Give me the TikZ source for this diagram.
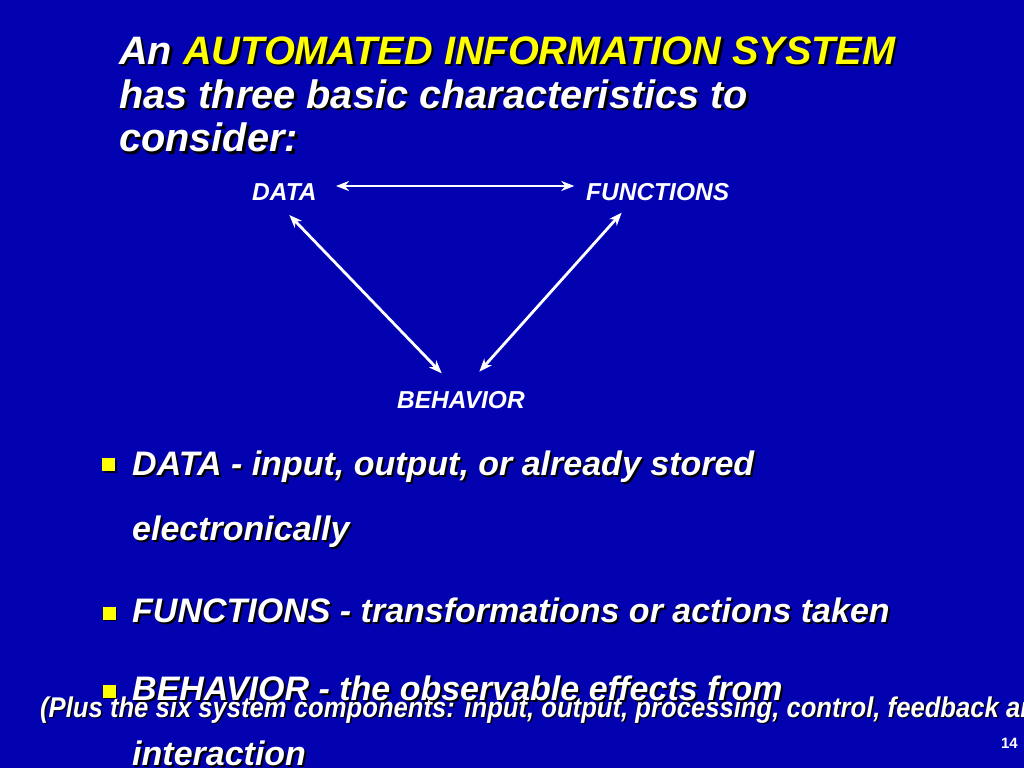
\documentclass[tikz,border=0pt]{standalone}
\usepackage{fontspec}
\setmainfont{Liberation Sans}
\newfontfamily\narrowfont[FakeStretch=0.9]{Liberation Sans}
\usetikzlibrary{arrows.meta,shadows}
\definecolor{bg}{RGB}{2,2,176}
\definecolor{ylw}{RGB}{255,255,0}
\newcommand\yel[1]{{\color{ylw}#1}}
\newcommand\shd[2]{\makebox[0pt][l]{\hspace*{#1}\raisebox{-#1}{\color{black}\let\yel\relax #2}}#2}
\tikzset{
  ttl/.style={anchor=base west, inner sep=0pt, text=white, font=\fontsize{39.7}{44}\selectfont\bfseries\itshape},
  lbl/.style={anchor=base west, inner sep=0pt, text=white, font=\fontsize{24.5}{28}\selectfont\bfseries\itshape},
  btxt/.style={anchor=base west, inner sep=0pt, text=white, font=\fontsize{34}{40}\selectfont\bfseries\itshape},
  note/.style={anchor=base west, inner sep=0pt, text=white, font=\narrowfont\fontsize{28.5}{33}\selectfont\bfseries\itshape},
  pgnum/.style={anchor=base east, inner sep=0pt, text=white, font=\fontsize{15}{18}\selectfont\bfseries},
  bsq/.style={fill=ylw, minimum size=13pt, inner sep=0pt, drop shadow={shadow xshift=1.5pt, shadow yshift=-1.5pt, fill=black, opacity=0.8}},
  arr/.style={draw=white, line width=2.8pt, >={Stealth[length=13pt,width=10pt,inset=4pt]}, <->}
}
\begin{document}
\begin{tikzpicture}[x=1pt,y=-1pt]
\useasboundingbox (0,0) rectangle (1024,768);
\fill[bg] (0,0) rectangle (1024,768);
\clip (0,0) rectangle (1024,768);
% title
\node[ttl] (t1) at (119,64.3) {\shd{2.5pt}{An \yel{AUTOMATED INFORMATION SYSTEM}}};
\node[ttl] (t2) at (119,108.3) {\shd{2.5pt}{has three basic characteristics to}};
\node[ttl] (t3) at (119,151.7) {\shd{2.5pt}{consider:}};
% diagram
\node[lbl] (data) at (252,200.7) {DATA};
\node[lbl] (func) at (586,200.7) {FUNCTIONS};
\node[lbl] (beh) at (397,408.3) {BEHAVIOR};
\draw[arr] ([shift={(84,-14.7)}]data.base west) -- ([shift={(-11.7,-14.7)}]func.base west);
\draw[arr] ([shift={(37.3,14.3)}]data.base west) -- ([shift={(44.7,-35)}]beh.base west);
\draw[arr] ([shift={(35.7,12)}]func.base west) -- ([shift={(82.3,-36.6)}]beh.base west);
% note (lies under the last bullet)
\node[note] (nt) at (40,717) {\shd{1.5pt}{(Plus the six system components: input, output, processing, control, feedback and}};
% bullets
\node[bsq] (s1) at (108.5,464.5) {};
\node[btxt] (d1) at (132,475) {\shd{2pt}{DATA - input, output, or already stored}};
\node[btxt] (d2) at (132,540) {\shd{2pt}{electronically}};
\node[bsq] (s2) at (109,613) {};
\node[btxt] (f1) at (132,622.7) {\shd{2pt}{FUNCTIONS - transformations or actions taken}};
\node[bsq] (s3) at (109,691) {};
\node[btxt] (h1) at (132,700.7) {\shd{2pt}{BEHAVIOR - the observable effects from}};
\node[btxt] (h2) at (132,765.7) {\shd{2pt}{interaction}};
% page number
\node[pgnum] (pg) at (1018,748) {14};
\end{tikzpicture}
\end{document}
